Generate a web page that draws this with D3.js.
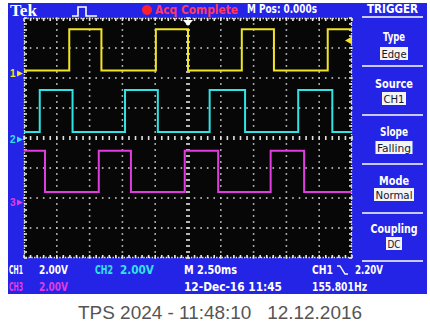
<!DOCTYPE html>
<html><head><meta charset="utf-8">
<script src="https://cdn.jsdelivr.net/npm/d3@7"></script>
<style>
html,body{margin:0;padding:0;background:#fff;}
svg{display:block;}
text{white-space:pre;}
</style></head><body>
<svg id="scope" width="430" height="324"></svg>
<script>
// Horizontal: ms relative to the trigger point (M Pos 0.000s), 2.50 ms/div over 10 divisions
const timeDomain = [-12.5, 12.5];
const msPerDiv = 2.5;
const voltsPerDiv = 2.0;

// Each channel: edge times (ms) and the level (V) of every segment between edges
const ch1Edges = [-9.05, -6.6, -2.45, 0.0, 4.1, 6.55, 10.65];
const ch1Levels = [0.2, 2.95, 0.2, 2.95, 0.2, 2.95, 0.2, 2.95];
const ch2Edges = [-11.3, -8.8, -4.8, -2.3, 1.65, 4.35, 8.4, 11.0];
const ch2Levels = [0.5, 3.3, 0.5, 3.3, 0.5, 3.3, 0.5, 3.3, 0.5];
const ch3Edges = [-10.9, -6.8, -4.35, -0.25, 2.3, 6.3, 8.85];
const ch3Levels = [3.45, 0.7, 3.45, 0.7, 3.45, 0.7, 3.45, 0.7];

// Ground reference of each channel, in divisions from screen centre
const channelOffsets = [2.15, -0.05, -2.15];
const channelNames = ['1', '2', '3'];
const channelColors = ['#f2e526', '#2fe3e6', '#e23ce0'];
const triggerLevel = 2.20;

// Side menu
const menuTitles = ['Type', 'Source', 'Slope', 'Mode', 'Coupling'];
const menuValues = ['Edge', 'CH1', 'Falling', 'Normal', 'DC'];

const BLUE = '#2424e6';
const svg = d3.select('#scope');
const plot = {left: 24, right: 352, top: 18, bottom: 258};

const x = d3.scaleLinear().domain(timeDomain).range([plot.left, plot.right]);
const yDiv = d3.scaleLinear().domain([-4, 4]).range([plot.bottom, plot.top]);
const yCh = (i, v) => yDiv(channelOffsets[i] + v / voltsPerDiv);

// Blue bezel and black screen
svg.append('rect').attr('x', 8).attr('y', 3).attr('width', 419).attr('height', 291).attr('fill', BLUE);
svg.append('rect').attr('x', plot.left).attr('y', plot.top)
  .attr('width', plot.right - plot.left).attr('height', plot.bottom - plot.top).attr('fill', '#070707');

// Graticule
const grid = svg.append('g');
const majorT = d3.range(-10, 10.01, msPerDiv).filter(t => Math.abs(t) > 1e-6);
const majorV = d3.range(-3, 3.01, 1).filter(v => v !== 0);
const minorT = d3.range(-12.5, 12.51, msPerDiv / 5);
const minorV = d3.range(-4, 4.01, 0.2);
const dotColor = '#c8c8c8';

majorT.forEach(t => {
  grid.selectAll(null).data(minorV).enter().append('rect')
    .attr('x', x(t) - 0.8).attr('y', d => yDiv(d) - 0.8)
    .attr('width', 1.6).attr('height', 1.6).attr('fill', dotColor);
});
majorV.forEach(v => {
  grid.selectAll(null).data(minorT).enter().append('rect')
    .attr('x', d => x(d) - 0.8).attr('y', yDiv(v) - 0.8)
    .attr('width', 1.6).attr('height', 1.6).attr('fill', dotColor);
});
// Centre axes with minor ticks
grid.selectAll(null).data(minorT).enter().append('rect')
  .attr('x', d => x(d) - 0.8).attr('y', yDiv(0) - 2)
  .attr('width', 1.6).attr('height', 4).attr('fill', '#e0e0e0');
grid.selectAll(null).data(minorV).enter().append('rect')
  .attr('x', x(0) - 2).attr('y', d => yDiv(d) - 0.8)
  .attr('width', 4).attr('height', 1.6).attr('fill', '#e0e0e0');
// Border with inward ticks
grid.append('rect').attr('x', plot.left + 0.5).attr('y', plot.top + 0.5)
  .attr('width', plot.right - plot.left - 1).attr('height', plot.bottom - plot.top - 1)
  .attr('fill', 'none').attr('stroke', '#e8e8e8').attr('stroke-width', 1.3).attr('stroke-dasharray', '1.4 1.4');
[plot.top, plot.bottom - 3].forEach(yy => {
  grid.selectAll(null).data(minorT).enter().append('rect')
    .attr('x', d => x(d) - 0.8).attr('y', yy).attr('width', 1.6).attr('height', 3).attr('fill', '#e8e8e8');
});
[plot.left, plot.right - 3].forEach(xx => {
  grid.selectAll(null).data(minorV).enter().append('rect')
    .attr('x', xx).attr('y', d => yDiv(d) - 0.8).attr('width', 3).attr('height', 1.6).attr('fill', '#e8e8e8');
});

// Traces
const stepLine = d3.line().x(d => x(d[0])).y(d => d[1]).curve(d3.curveStepAfter);
function tracePoints(i, edges, levels) {
  const pts = [[timeDomain[0], yCh(i, levels[0])]];
  edges.forEach((e, k) => pts.push([e, yCh(i, levels[k + 1])]));
  pts.push([timeDomain[1], yCh(i, levels[levels.length - 1])]);
  return pts;
}
const traces = [[ch1Edges, ch1Levels], [ch2Edges, ch2Levels], [ch3Edges, ch3Levels]];
traces.forEach(([edges, levels], i) => {
  svg.append('path').attr('d', stepLine(tracePoints(i, edges, levels)))
    .attr('fill', 'none').attr('stroke', channelColors[i]).attr('stroke-width', 2);
});

// Channel ground markers on the left bezel
channelNames.forEach((n, i) => {
  const gy = yCh(i, 0);
  svg.append('text').attr('x', 10).attr('y', gy + 3.5).text(n)
    .attr('fill', channelColors[i]).attr('font-family', 'Liberation Sans, Arial, sans-serif')
    .attr('font-weight', 'bold').attr('font-size', 10);
  svg.append('path').attr('d', `M17,${gy - 3}L23,${gy}L17,${gy + 3}Z`).attr('fill', channelColors[i]);
});

// Trigger position (top) and trigger level (right edge) markers
svg.append('path').attr('d', `M${x(0) - 5},${plot.top + 2}L${x(0) + 5},${plot.top + 2}L${x(0)},${plot.top + 8}Z`).attr('fill', '#fff');
const ty = yCh(0, triggerLevel);
svg.append('path').attr('d', `M${plot.right},${ty - 4}L${plot.right - 7},${ty}L${plot.right},${ty + 4}Z`).attr('fill', channelColors[0]);

// Top status bar
const narrow = 'Liberation Sans Narrow, DejaVu Sans Condensed, Arial Narrow, sans-serif';
function label(txt, xx, yy, opts = {}) {
  const t = svg.append('text').attr('x', xx).attr('y', yy).text(txt)
    .attr('fill', opts.fill || '#fff')
    .attr('font-family', opts.family || narrow)
    .attr('font-size', opts.size || 12)
    .attr('font-weight', opts.weight || 'bold')
    .attr('text-anchor', opts.anchor || 'start');
  if (opts.len) t.attr('textLength', opts.len).attr('lengthAdjust', 'spacingAndGlyphs');
  return t;
}
label('Tek', 10, 16, {family: 'Liberation Serif, DejaVu Serif, serif', size: 16, len: 27});
svg.append('path').attr('d', 'M72,16H78V7H86V16H97').attr('fill', 'none').attr('stroke', '#fff').attr('stroke-width', 1.6);
svg.append('circle').attr('cx', 147).attr('cy', 10).attr('r', 5).attr('fill', '#ff1f2a');
label('Acq Complete', 155, 14, {fill: '#ff3a62', len: 83});
label('M Pos: 0.000s', 247, 13, {len: 70});

// Trigger menu
label('TRIGGER', 367, 13, {len: 51});
const sepYs = [17, 66, 115, 164, 213, 261];
sepYs.forEach(sy => svg.append('line').attr('x1', 362).attr('x2', 423).attr('y1', sy).attr('y2', sy)
  .attr('stroke', '#fff').attr('stroke-width', 1.3));
const titleY = [41, 88, 136, 185, 233];
const titleLen = [22, 38, 28, 30, 47];
const boxTop = [47, 92, 141, 188, 237];
const boxW = [28, 24, 37, 40, 16];
menuTitles.forEach((t, i) => {
  label(t, 394, titleY[i], {anchor: 'middle', len: titleLen[i], size: 13});
  svg.append('rect').attr('x', 394 - boxW[i] / 2).attr('y', boxTop[i]).attr('width', boxW[i]).attr('height', 13).attr('fill', '#f4f4f4');
  label(menuValues[i], 394, boxTop[i] + 10.5, {anchor: 'middle', fill: '#151530', weight: 'normal', size: 11, len: boxW[i] - 3});
});

// Bottom readouts
label('CH1', 9, 274, {len: 14, size: 11.5});
label('2.00V', 39, 274, {len: 29, size: 11.5});
label('CH2', 95, 274, {len: 18, size: 11.5, fill: channelColors[1]});
label('2.00V', 120, 274, {len: 34, size: 11.5, fill: channelColors[1]});
label('M 2.50ms', 184, 274, {len: 53, size: 11.5});
label('CH1', 312, 274, {len: 21, size: 11.5});
svg.append('path').attr('d', 'M337,266H340L345,274H348').attr('fill', 'none').attr('stroke', '#fff').attr('stroke-width', 1.4);
label('2.20V', 355, 274, {len: 28, size: 11.5});
label('CH3', 9, 291, {len: 14, size: 11.5, fill: channelColors[2]});
label('2.00V', 39, 291, {len: 29, size: 11.5, fill: channelColors[2]});
label('12-Dec-16 11:45', 184, 291, {len: 98, size: 11.5});
label('155.801Hz', 312, 291, {len: 55, size: 11.5});

// Caption under the screen
label('TPS 2024 - 11:48:10   12.12.2016', 220, 319, {family: 'Liberation Sans, Arial, sans-serif', size: 19, weight: 'normal', fill: '#555555', anchor: 'middle', len: 284});
</script>
</body></html>
